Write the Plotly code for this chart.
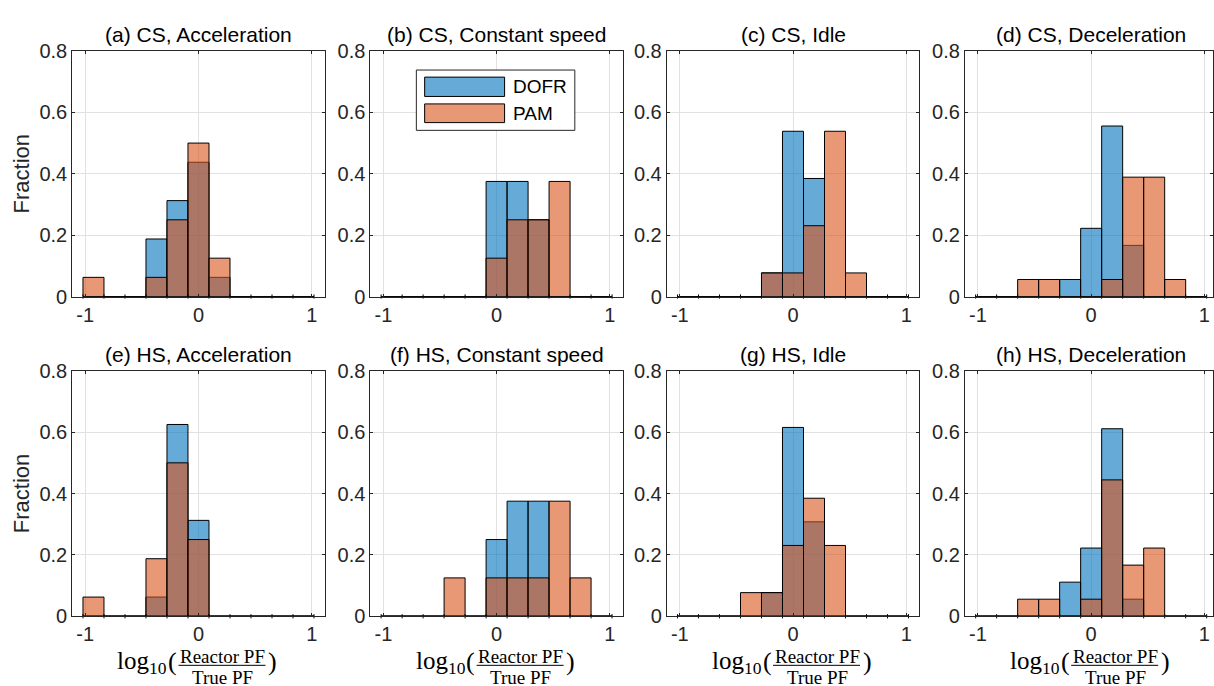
import numpy as np
import plotly.graph_objects as go

# ---- figure size (px) ----
W, H = 1214, 686

# ---- histogram bins: 11 bins of equal width centred on k * BIN_WIDTH ----
BIN_WIDTH = 0.1855
BIN_INDEX = list(range(-5, 6))

# ---- counts per bin (bins k = -5 ... 5), normalised to fractions below ----
CS_ACCEL_DOFR = [0, 0, 0, 3, 5, 7, 1, 0, 0, 0, 0]
CS_ACCEL_PAM = [1, 0, 0, 1, 4, 8, 2, 0, 0, 0, 0]
CS_CONST_DOFR = [0, 0, 0, 0, 0, 3, 3, 2, 0, 0, 0]
CS_CONST_PAM = [0, 0, 0, 0, 0, 1, 2, 2, 3, 0, 0]
CS_IDLE_DOFR = [0, 0, 0, 0, 1, 7, 5, 0, 0, 0, 0]
CS_IDLE_PAM = [0, 0, 0, 0, 1, 1, 3, 7, 1, 0, 0]
CS_DECEL_DOFR = [0, 0, 0, 0, 1, 4, 10, 3, 0, 0, 0]
CS_DECEL_PAM = [0, 0, 1, 1, 0, 0, 1, 7, 7, 1, 0]
HS_ACCEL_DOFR = [0, 0, 0, 1, 10, 5, 0, 0, 0, 0, 0]
HS_ACCEL_PAM = [1, 0, 0, 3, 8, 4, 0, 0, 0, 0, 0]
HS_CONST_DOFR = [0, 0, 0, 0, 0, 2, 3, 3, 0, 0, 0]
HS_CONST_PAM = [0, 0, 0, 1, 0, 1, 1, 1, 3, 1, 0]
HS_IDLE_DOFR = [0, 0, 0, 0, 1, 8, 4, 0, 0, 0, 0]
HS_IDLE_PAM = [0, 0, 0, 1, 1, 3, 5, 3, 0, 0, 0]
HS_DECEL_DOFR = [0, 0, 0, 0, 2, 4, 11, 1, 0, 0, 0]
HS_DECEL_PAM = [0, 0, 1, 1, 0, 1, 8, 3, 4, 0, 0]

PANEL_TITLES = [
    "(a) CS, Acceleration", "(b) CS, Constant speed", "(c) CS, Idle", "(d) CS, Deceleration",
    "(e) HS, Acceleration", "(f) HS, Constant speed", "(g) HS, Idle", "(h) HS, Deceleration",
]
PANEL_DATA = [
    (CS_ACCEL_DOFR, CS_ACCEL_PAM), (CS_CONST_DOFR, CS_CONST_PAM),
    (CS_IDLE_DOFR, CS_IDLE_PAM), (CS_DECEL_DOFR, CS_DECEL_PAM),
    (HS_ACCEL_DOFR, HS_ACCEL_PAM), (HS_CONST_DOFR, HS_CONST_PAM),
    (HS_IDLE_DOFR, HS_IDLE_PAM), (HS_DECEL_DOFR, HS_DECEL_PAM),
]
SERIES_NAMES = ["DOFR", "PAM"]
X_TICKS = [-1, 0, 1]
X_TICK_TEXT = ["-1", "0", "1"]
Y_TICKS = [0, 0.2, 0.4, 0.6, 0.8]
Y_TICK_TEXT = ["0", "0.2", "0.4", "0.6", "0.8"]

# ---- style ----
FILL = ["rgba(0,114,189,0.6)", "rgba(217,83,25,0.6)"]
AXIS_COLOR = "#262626"
GRID_COLOR = "#e1e1e1"
SANS = "Liberation Sans, Arial, Helvetica, sans-serif"
SERIF = "Liberation Serif, Times New Roman, serif"

# subplot frames in pixels (left, right) / (top, bottom)
COL_PX = [(72.3, 325.0), (370.7, 623.3), (667.3, 920.0), (965.7, 1214.0)]
ROW_PX = [(41.3, 295.0), (371.7, 625.3)]
COL_RANGE = [(-1.115, 1.115), (-1.115, 1.115), (-1.115, 1.115), (-1.115, 1.076)]


def px_x(p):
    return p / W


def px_y(p):
    return 1 - p / H


centers = np.array(BIN_INDEX) * BIN_WIDTH
edges = np.append(centers - BIN_WIDTH / 2, centers[-1] + BIN_WIDTH / 2)

fig = go.Figure()
annotations = []
shapes = []

for i, (title, (dofr, pam)) in enumerate(zip(PANEL_TITLES, PANEL_DATA)):
    row, col = divmod(i, 4)
    n = i + 1
    xa = "x" if n == 1 else f"x{n}"
    ya = "y" if n == 1 else f"y{n}"

    for s, counts in enumerate((dofr, pam)):
        counts = np.array(counts, dtype=float)
        frac = counts / counts.sum()
        fig.add_trace(go.Bar(
            x=centers, y=frac, width=BIN_WIDTH, name=SERIES_NAMES[s],
            marker=dict(color=FILL[s], line=dict(color="black", width=1)),
            xaxis=xa, yaxis=ya, showlegend=False, hoverinfo="x+y",
        ))
    # outline of empty bins along the baseline
    fig.add_trace(go.Scatter(
        x=edges, y=np.zeros_like(edges), mode="lines+markers",
        line=dict(color="black", width=1),
        marker=dict(symbol="line-ns", size=3, line=dict(color="black", width=1)),
        xaxis=xa, yaxis=ya, showlegend=False, hoverinfo="skip", cliponaxis=False,
    ))

    common = dict(
        showline=True, linecolor=AXIS_COLOR, linewidth=1, mirror="ticks",
        ticks="inside", ticklen=3, tickcolor=AXIS_COLOR, tickwidth=1,
        showgrid=True, gridcolor=GRID_COLOR, gridwidth=1, zeroline=False,
        tickfont=dict(family=SANS, size=20, color=AXIS_COLOR),
    )
    l, r = COL_PX[col]
    t, b = ROW_PX[row]
    fig.layout[f"xaxis{n}" if n > 1 else "xaxis"] = dict(
        domain=[px_x(l), min(px_x(r), 1.0)], anchor=ya, range=list(COL_RANGE[col]),
        tickvals=X_TICKS, ticktext=X_TICK_TEXT, **common)
    fig.layout[f"yaxis{n}" if n > 1 else "yaxis"] = dict(
        domain=[px_y(b), px_y(t)], anchor=xa, range=[0, 0.8],
        tickvals=Y_TICKS, ticktext=Y_TICK_TEXT, **common)

    # panel title
    annotations.append(dict(
        text=title, xref=xa, yref="paper", x=0, y=px_y(t - 16.6),
        xanchor="center", yanchor="middle", showarrow=False,
        font=dict(family=SANS, size=21, color="black")))

    if col == 0:
        annotations.append(dict(
            text="Fraction", xref="paper", yref="paper", x=px_x(21.7),
            y=px_y((t + b) / 2), textangle=-90, xanchor="center", yanchor="middle",
            showarrow=False, font=dict(family=SANS, size=22, color=AXIS_COLOR)))

    if row == 1:
        # x label: log10( Reactor PF / True PF )
        annotations += [
            dict(text="log<sub>10</sub>", xref=xa, yref="paper", x=0, y=px_y(673),
                 xshift=-29, xanchor="right", yanchor="middle", showarrow=False,
                 font=dict(family=SERIF, size=25, color="black")),
            dict(text="(", xref=xa, yref="paper", x=0, y=px_y(672),
                 xshift=-26, xanchor="center", yanchor="middle", showarrow=False,
                 font=dict(family=SERIF, size=26, color="black")),
            dict(text=")", xref=xa, yref="paper", x=0, y=px_y(672),
                 xshift=74, xanchor="center", yanchor="middle", showarrow=False,
                 font=dict(family=SERIF, size=26, color="black")),
            dict(text="Reactor PF", xref=xa, yref="paper", x=0, y=px_y(667),
                 xshift=24, xanchor="center", yanchor="middle", showarrow=False,
                 font=dict(family=SERIF, size=19, color="black")),
            dict(text="True PF", xref=xa, yref="paper", x=0, y=px_y(689),
                 xshift=24, xanchor="center", yanchor="middle", showarrow=False,
                 font=dict(family=SERIF, size=19, color="black")),
        ]
        shapes.append(dict(
            type="line", xref=xa, yref="paper", xsizemode="pixel", xanchor=0,
            x0=-20, x1=67, y0=px_y(676), y1=px_y(676),
            line=dict(color="black", width=1)))

# ---- legend box drawn inside panel (b) ----
shapes.append(dict(type="rect", xref="paper", yref="paper",
                   x0=px_x(416.7), x1=px_x(575.3), y0=px_y(123.3), y1=px_y(61),
                   line=dict(color=AXIS_COLOR, width=1), fillcolor="white", layer="above"))
for s, (yt, yb) in enumerate([(68.3, 88.3), (96.0, 115.3)]):
    shapes.append(dict(type="rect", xref="paper", yref="paper",
                       x0=px_x(425), x1=px_x(505), y0=px_y(yb), y1=px_y(yt),
                       line=dict(color="black", width=1), fillcolor=FILL[s], layer="above"))
    annotations.append(dict(
        text=SERIES_NAMES[s], xref="paper", yref="paper", x=px_x(511), y=px_y((yt + yb) / 2),
        xanchor="left", yanchor="middle", showarrow=False,
        font=dict(family=SANS, size=19, color="black")))

fig.update_layout(
    width=W, height=H, margin=dict(l=0, r=0, t=0, b=0, pad=0),
    paper_bgcolor="white", plot_bgcolor="white",
    barmode="overlay", showlegend=False,
    annotations=annotations, shapes=shapes,
    font=dict(family=SANS, color=AXIS_COLOR),
)

# page body without default margins so the figure fills the window exactly
fig.write_html(
    "out.html",
    post_script="document.body.style.margin='0';document.body.style.overflow='hidden';",
)
